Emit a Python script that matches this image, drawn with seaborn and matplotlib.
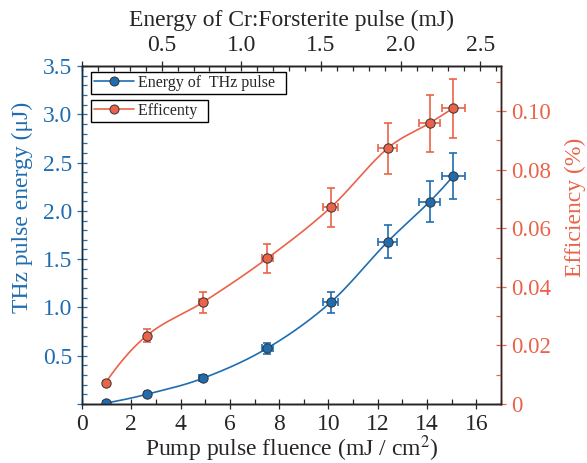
import numpy as np
import pandas as pd
import seaborn as sns
import matplotlib.pyplot as plt
from matplotlib.ticker import MultipleLocator, FuncFormatter
from matplotlib.lines import Line2D

# values
fluence = [0.96, 2.62, 4.90, 7.51, 10.09, 12.40, 14.10, 15.06]
fluence_err = [0.03, 0.08, 0.15, 0.22, 0.31, 0.38, 0.43, 0.46]
thz_energy = [0.01, 0.10, 0.266, 0.577, 1.053, 1.68, 2.094, 2.36]
thz_err = [0.02, 0.02, 0.03, 0.057, 0.107, 0.17, 0.21, 0.236]
efficiency = [0.0073, 0.0233, 0.0347, 0.0497, 0.0671, 0.0873, 0.0959, 0.101]
eff_err = [0.0007, 0.0023, 0.0035, 0.005, 0.0067, 0.0088, 0.0097, 0.0101]

blue = '#1f6db0'
orange = '#ea6349'


def smooth(x, y, n=300):
    # cubic Hermite curve through the points, tangents from neighbouring points
    x = np.asarray(x, float); y = np.asarray(y, float)
    h = np.diff(x)
    d = np.diff(y) / h
    m = np.zeros_like(y)
    m[1:-1] = (y[2:] - y[:-2]) / (x[2:] - x[:-2])
    m[0] = 2 * d[0] - m[1]
    m[-1] = 2 * d[-1] - m[-2]
    m[0] = d[0] if m[0] * d[0] <= 0 else m[0]
    m[-1] = d[-1] if m[-1] * d[-1] <= 0 else m[-1]
    xs = np.linspace(x[0], x[-1], n)
    idx = np.clip(np.searchsorted(x, xs) - 1, 0, len(x) - 2)
    t = (xs - x[idx]) / h[idx]
    h00 = 2 * t**3 - 3 * t**2 + 1
    h10 = t**3 - 2 * t**2 + t
    h01 = -2 * t**3 + 3 * t**2
    h11 = t**3 - t**2
    ys = h00 * y[idx] + h10 * h[idx] * m[idx] + h01 * y[idx + 1] + h11 * h[idx] * m[idx + 1]
    return xs, ys


sns.set_style('ticks')
plt.rcParams['font.family'] = ['Liberation Serif', 'DejaVu Serif']
plt.rcParams['mathtext.fontset'] = 'stix'

fig = plt.figure(figsize=(5.87, 4.63), dpi=100)
ax = fig.add_axes([0.1397, 0.1274, 0.7138, 0.7301])
ax2 = ax.twinx()
ax3 = ax.twiny()

xs, ys = smooth(fluence, thz_energy)
sns.lineplot(x=xs, y=ys, ax=ax, color=blue, lw=1.2, sort=False)
ax.errorbar(fluence, thz_energy, xerr=fluence_err, yerr=thz_err, fmt='none',
            ecolor=blue, elinewidth=1.2, capsize=2.6, capthick=1.2)
sns.scatterplot(x=fluence, y=thz_energy, ax=ax, color=blue, s=45,
                edgecolor='#333333', linewidth=0.7, zorder=5)

xs, ys = smooth(fluence, efficiency)
sns.lineplot(x=xs, y=ys, ax=ax2, color=orange, lw=1.2, sort=False)
ax2.errorbar(fluence, efficiency, xerr=fluence_err, yerr=eff_err, fmt='none',
             ecolor=orange, elinewidth=1.2, capsize=2.6, capthick=1.2)
sns.scatterplot(x=fluence, y=efficiency, ax=ax2, color=orange, s=45,
                edgecolor='#333333', linewidth=0.7, zorder=5)

ax.set_xlim(0, 17)
ax.set_ylim(0, 3.5)
ax2.set_ylim(0, 0.1154)
ax3.set_xlim(0, 2.63)

ax.xaxis.set_major_locator(MultipleLocator(2))
ax.xaxis.set_minor_locator(MultipleLocator(1))
ax.yaxis.set_major_locator(MultipleLocator(0.5))
ax.yaxis.set_minor_locator(MultipleLocator(0.1))
ax2.yaxis.set_major_locator(MultipleLocator(0.02))
ax2.yaxis.set_minor_locator(MultipleLocator(0.01))
ax2.yaxis.set_major_formatter(FuncFormatter(lambda v, p: '0' if abs(v) < 1e-9 else f'{v:.2f}'))
ax3.xaxis.set_major_locator(MultipleLocator(0.5))
ax3.xaxis.set_minor_locator(MultipleLocator(0.1))
ax.yaxis.set_major_formatter(FuncFormatter(lambda v, p: '' if abs(v) < 1e-9 else f'{v:.1f}'))
ax3.xaxis.set_major_formatter(FuncFormatter(lambda v, p: '' if abs(v) < 1e-9 else f'{v:.1f}'))

for a in (ax, ax2, ax3):
    for s in a.spines.values():
        s.set_linewidth(1.0)
        s.set_visible(True)
ax.spines['left'].set_color(blue)
ax2.spines['right'].set_color(orange)
ax2.spines['left'].set_color(blue)

ax.tick_params(axis='x', which='major', direction='inout', length=7, labelsize=17, width=0.9)
ax.tick_params(axis='x', which='minor', direction='in', length=3.5, width=0.9)
ax.tick_params(axis='y', which='major', direction='inout', length=7, labelsize=17,
               colors=blue, width=0.9)
ax.tick_params(axis='y', which='minor', direction='in', length=3.5, color=blue, width=0.9)
ax2.tick_params(axis='y', which='major', direction='inout', length=7, labelsize=16.5,
                colors=orange, width=0.9)
ax2.tick_params(axis='y', which='minor', direction='in', length=3.5, color=orange, width=0.9)
ax3.tick_params(axis='x', which='major', direction='inout', length=7, labelsize=17, width=0.9)
ax3.tick_params(axis='x', which='minor', direction='in', length=3.5, width=0.9)

ax.set_xlabel('Pump pulse fluence (mJ / cm$^{2}$)', fontsize=17, labelpad=-1)
ax.set_ylabel('THz pulse energy (μJ)', fontsize=17, color=blue)
ax.yaxis.set_label_coords(-0.117, 0.583)
ax2.set_ylabel('Efficiency (%)', fontsize=17, color=orange)
ax2.yaxis.set_label_coords(1.153, 0.583)
ax3.set_xlabel('Energy of Cr:Forsterite pulse (mJ)', fontsize=17, labelpad=7)

h1 = Line2D([], [], color=blue, lw=1.2, marker='o', markersize=6.5,
            markerfacecolor=blue, markeredgecolor='#333333', markeredgewidth=0.7)
h2 = Line2D([], [], color=orange, lw=1.2, marker='o', markersize=6.5,
            markerfacecolor=orange, markeredgecolor='#333333', markeredgewidth=0.7)
leg_kw = dict(loc='upper left', fontsize=11.5, fancybox=False, edgecolor='black',
              framealpha=1, borderpad=0.2, handlelength=2.5, handletextpad=0.25,
              borderaxespad=0)
leg1 = ax3.legend([h1], ['Energy of  THz pulse  '], bbox_to_anchor=(0.021, 0.983), **leg_kw)
leg1.get_frame().set_linewidth(1.0)
ax3.add_artist(leg1)
leg2 = ax3.legend([h2], ['Efficenty  '], bbox_to_anchor=(0.021, 0.900), **leg_kw)
leg2.get_frame().set_linewidth(1.0)

fig.savefig('out.png', dpi=100)
